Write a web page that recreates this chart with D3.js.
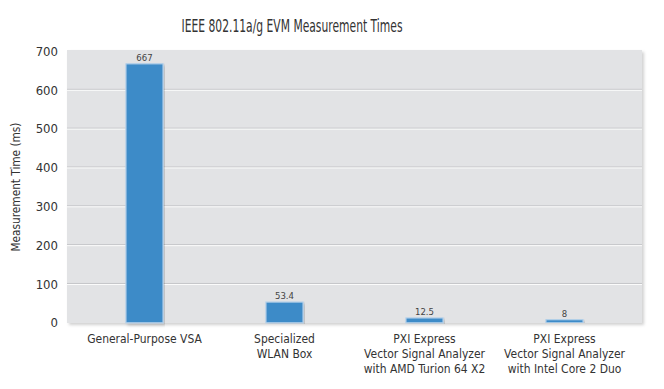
<!DOCTYPE html>
<html><head><meta charset="utf-8">
<script src="https://cdn.jsdelivr.net/npm/d3@7"></script>
<style>
body{margin:0;background:#fff;}
text{font-family:"Liberation Sans Narrow","DejaVu Sans Condensed","Roboto",sans-serif;}
</style></head>
<body><svg id="c" width="664" height="389"></svg>
<script>
const categories = [
  ["General-Purpose VSA"],
  ["Specialized","WLAN Box"],
  ["PXI Express","Vector Signal Analyzer","with AMD Turion 64 X2"],
  ["PXI Express","Vector Signal Analyzer","with Intel Core 2 Duo"]
];
const values = [667, 53.4, 12.5, 8];
const valueLabels = ["667","53.4","12.5","8"];
const yTicks = [0,100,200,300,400,500,600,700];
const title = "IEEE 802.11a/g EVM Measurement Times";
const yTitle = "Measurement Time (ms)";

const svg = d3.select("#c");
const plot = {l:67, r:642, t:50, b:323};
const y = d3.scaleLinear().domain([0,700]).range([322.8,51]);
const x = d3.scaleBand().domain(d3.range(categories.length)).range([74.5,634.5]).paddingInner(0.735).paddingOuter(0.3675);

const defs = svg.append("defs");
const f = defs.append("filter").attr("id","sh").attr("x","-5%").attr("y","-5%").attr("width","110%").attr("height","110%");
f.append("feDropShadow").attr("dx",2).attr("dy",2).attr("stdDeviation",1.5).attr("flood-color","#000").attr("flood-opacity",0.18);

svg.append("rect").attr("x",plot.l).attr("y",plot.t).attr("width",plot.r-plot.l).attr("height",plot.b-plot.t)
  .attr("fill","#e2e3e5").attr("filter","url(#sh)");

// gridlines
const g = svg.append("g");
yTicks.filter(t=>t>0 && t<700).forEach(t=>{
  g.append("line").attr("x1",plot.l).attr("x2",plot.r).attr("y1",y(t)-0.5).attr("y2",y(t)-0.5).attr("stroke","#c4c5c8").attr("stroke-width",1);
  g.append("line").attr("x1",plot.l).attr("x2",plot.r).attr("y1",y(t)+0.5).attr("y2",y(t)+0.5).attr("stroke","#fbfbfb").attr("stroke-width",1);
});

// y axis
const yAxis = d3.axisLeft(y).tickValues(yTicks).tickSize(0).tickPadding(9);
const ya = svg.append("g").attr("transform",`translate(${plot.l},0)`).call(yAxis);
ya.select(".domain").remove();
ya.selectAll("text").attr("font-size",13).attr("fill","#333").attr("font-family",'"Liberation Sans Narrow","DejaVu Sans Condensed",sans-serif');

// bars
svg.append("g").selectAll("rect").data(values).join("rect")
  .attr("x",(d,i)=>x(i)).attr("width",x.bandwidth())
  .attr("y",d=>y(d)).attr("height",d=>y(0)-y(d))
  .attr("fill","#3e8bc8").attr("stroke","#b3d0ea").attr("stroke-width",1.2)
  .attr("filter","url(#sh)");

svg.append("g").selectAll("text").data(values).join("text")
  .attr("x",(d,i)=>x(i)+x.bandwidth()/2).attr("y",d=>y(d)-3)
  .attr("text-anchor","middle").attr("font-size",9.5).attr("fill","#444")
  .text((d,i)=>valueLabels[i]);

// x labels
const xl = svg.append("g");
categories.forEach((lines,i)=>{
  lines.forEach((ln,j)=>{
    xl.append("text").attr("text-anchor","middle").attr("font-size",13).attr("fill","#333")
      .attr("transform",`translate(${x(i)+x.bandwidth()/2},${343+j*14.8}) scale(0.92,1)`).text(ln);
  });
});

svg.append("text").attr("x",292).attr("y",32).attr("text-anchor","middle").attr("font-size",17).attr("fill","#333")
  .attr("textLength",221).attr("lengthAdjust","spacingAndGlyphs").text(title);
svg.append("text").attr("transform","translate(20,187) rotate(-90)").attr("text-anchor","middle").attr("font-size",13).attr("fill","#333")
  .attr("textLength",129).attr("lengthAdjust","spacingAndGlyphs").text(yTitle);
</script></body></html>
